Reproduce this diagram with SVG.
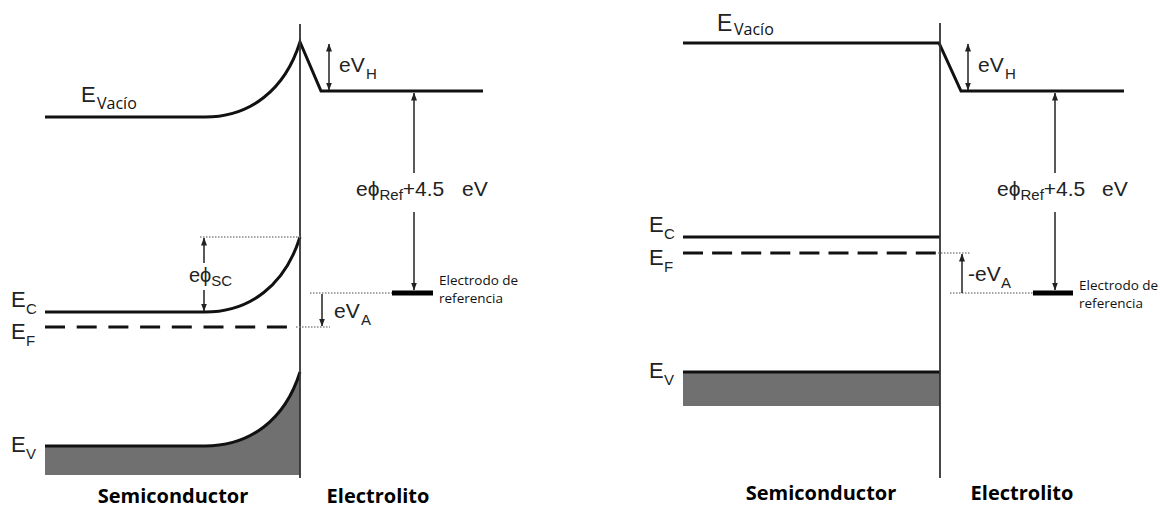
<svg xmlns="http://www.w3.org/2000/svg" width="1160" height="508" viewBox="0 0 1160 508">
<style>
.lvl{fill:none;stroke:#111;stroke-width:3}
.dash{fill:none;stroke:#111;stroke-width:3.2}
.iface{fill:none;stroke:#333;stroke-width:1.8}
.arr{fill:none;stroke:#222;stroke-width:1.5}
.dot{fill:none;stroke:#888;stroke-width:1.3;stroke-dasharray:1.5 1.5}
.bar{fill:none;stroke:#000;stroke-width:5}
.fillv{fill:#707070;stroke:none}
.t{font-family:"Liberation Sans","DejaVu Sans",Arial,sans-serif;font-size:21px;fill:#222}
.tE{font-family:"Liberation Sans","DejaVu Sans",Arial,sans-serif;font-size:22px;fill:#222}
.sub{font-family:"Liberation Sans","DejaVu Sans",Arial,sans-serif;font-size:15px;fill:#222}
.cal{font-family:"Open Sans","Noto Sans",sans-serif;font-size:16px;fill:#111}
.ref{font-family:"Open Sans","Noto Sans",sans-serif;font-size:13.5px;fill:#111}
.hd{font-family:"Open Sans","Noto Sans",sans-serif;font-size:20px;font-weight:bold;fill:#000}
</style>
<defs>
<marker id="ah" markerUnits="userSpaceOnUse" markerWidth="8" markerHeight="8" viewBox="0 0 8 8" refX="7.5" refY="4" orient="auto-start-reverse">
<path d="M0,1 L8,4 L0,7 Z" fill="#222"/>
</marker>
</defs>

<!-- LEFT DIAGRAM -->
<g id="left-valence">
<path class="fillv" d="M45,446 L205,446 C250,446 285,420 300,372 L300,475 L45,475 Z"/>
<path class="lvl" d="M45,446 L205,446 C250,446 285,420 300,372"/>
<text class="tE" x="11" y="452">E</text><text class="sub" x="26" y="459">V</text>
</g>
<g id="left-vacuum">
<path class="lvl" d="M45,117 L205,117 C250,117 285,90 300,42 L321,91 L483,91"/>
<text class="tE" x="81" y="102">E</text><text class="cal" x="97" y="109">Vacío</text>
</g>
<g id="left-conduction">
<path class="lvl" d="M45,312 L205,312 C250,312 285,285 300,237"/>
<text class="tE" x="11" y="307">E</text><text class="sub" x="26" y="314">C</text>
</g>
<g id="left-fermi">
<line class="dash" x1="45" y1="327" x2="287" y2="327" stroke-dasharray="20 11.7"/>
<text class="tE" x="11" y="339">E</text><text class="sub" x="26" y="346">F</text>
</g>
<g id="left-interface">
<line class="iface" x1="300" y1="24" x2="300" y2="478"/>
</g>
<g id="left-reference">
<line class="bar" x1="392" y1="293" x2="433" y2="293"/>
<text class="ref" x="439" y="285">Electrodo de</text>
<text class="ref" x="439" y="303">referencia</text>
</g>
<g id="left-labels">
<text class="t" x="339" y="72">eV</text><text class="sub" x="366" y="79">H</text>
<text class="t" x="356" y="196">eϕ<tspan class="sub" dy="4">Ref</tspan><tspan dy="-4">+4.5</tspan><tspan x="462">eV</tspan></text>
<text class="t" x="189" y="282" style="font-size:20px">eϕ<tspan class="sub" dy="4">SC</tspan></text>
<text class="t" x="334" y="318">eV</text><text class="sub" x="361" y="325">A</text>
<text class="hd" x="173" y="503" text-anchor="middle">Semiconductor</text>
<text class="hd" x="378" y="503" text-anchor="middle">Electrolito</text>
</g>

<!-- RIGHT DIAGRAM -->
<g id="right-valence">
<rect class="fillv" x="683" y="372" width="257" height="34"/>
<line class="lvl" x1="683" y1="372" x2="940" y2="372"/>
<text class="tE" x="649" y="378">E</text><text class="sub" x="664" y="385">V</text>
</g>
<g id="right-vacuum">
<path class="lvl" d="M683,43 L939,43 L961,91 L1124,91"/>
<text class="tE" x="717" y="31" style="font-size:23px">E</text><text class="cal" x="734" y="35">Vacío</text>
</g>
<g id="right-conduction">
<line class="lvl" x1="683" y1="237" x2="940" y2="237"/>
<text class="tE" x="649" y="232">E</text><text class="sub" x="664" y="239">C</text>
</g>
<g id="right-fermi">
<line class="dash" x1="683" y1="253" x2="936" y2="253" stroke-dasharray="20 9.1"/>
<text class="tE" x="649" y="265">E</text><text class="sub" x="664" y="272">F</text>
</g>
<g id="right-interface">
<line class="iface" x1="940" y1="23" x2="940" y2="478"/>
</g>
<g id="right-reference">
<line class="bar" x1="1033" y1="293" x2="1073" y2="293"/>
<text class="ref" x="1079" y="290">Electrodo de</text>
<text class="ref" x="1079" y="308">referencia</text>
</g>
<g id="right-labels">
<text class="t" x="978" y="72">eV</text><text class="sub" x="1005" y="79">H</text>
<text class="t" x="997" y="196">eϕ<tspan class="sub" dy="4">Ref</tspan><tspan dy="-4">+4.5</tspan><tspan x="1102">eV</tspan></text>
<text class="t" x="968" y="281">-eV</text><text class="sub" x="1001" y="288">A</text>
<text class="hd" x="821" y="500" text-anchor="middle">Semiconductor</text>
<text class="hd" x="1022" y="500" text-anchor="middle">Electrolito</text>
</g>

<g id="connectors">
<!-- left -->
<line class="dot" x1="200" y1="237" x2="300" y2="237"/>
<line class="dot" x1="310" y1="293" x2="392" y2="293"/>
<line class="dot" x1="296" y1="327" x2="330" y2="327"/>
<line class="arr" x1="329" y1="44" x2="329" y2="90" marker-start="url(#ah)" marker-end="url(#ah)"/>
<line class="arr" x1="414" y1="93" x2="414" y2="173" marker-start="url(#ah)"/>
<line class="arr" x1="414" y1="212" x2="414" y2="290" marker-end="url(#ah)"/>
<line class="arr" x1="204" y1="238" x2="204" y2="263" marker-start="url(#ah)"/>
<line class="arr" x1="204" y1="290" x2="204" y2="311" marker-end="url(#ah)"/>
<line class="arr" x1="322" y1="294" x2="322" y2="326" marker-end="url(#ah)"/>
<!-- right -->
<line class="dot" x1="938" y1="253" x2="970" y2="253"/>
<line class="dot" x1="950" y1="293" x2="1033" y2="293"/>
<line class="arr" x1="968" y1="44" x2="968" y2="90" marker-start="url(#ah)" marker-end="url(#ah)"/>
<line class="arr" x1="1055" y1="93" x2="1055" y2="173" marker-start="url(#ah)"/>
<line class="arr" x1="1055" y1="212" x2="1055" y2="290" marker-end="url(#ah)"/>
<line class="arr" x1="962" y1="293" x2="962" y2="254" marker-end="url(#ah)"/>
</g>
</svg>
